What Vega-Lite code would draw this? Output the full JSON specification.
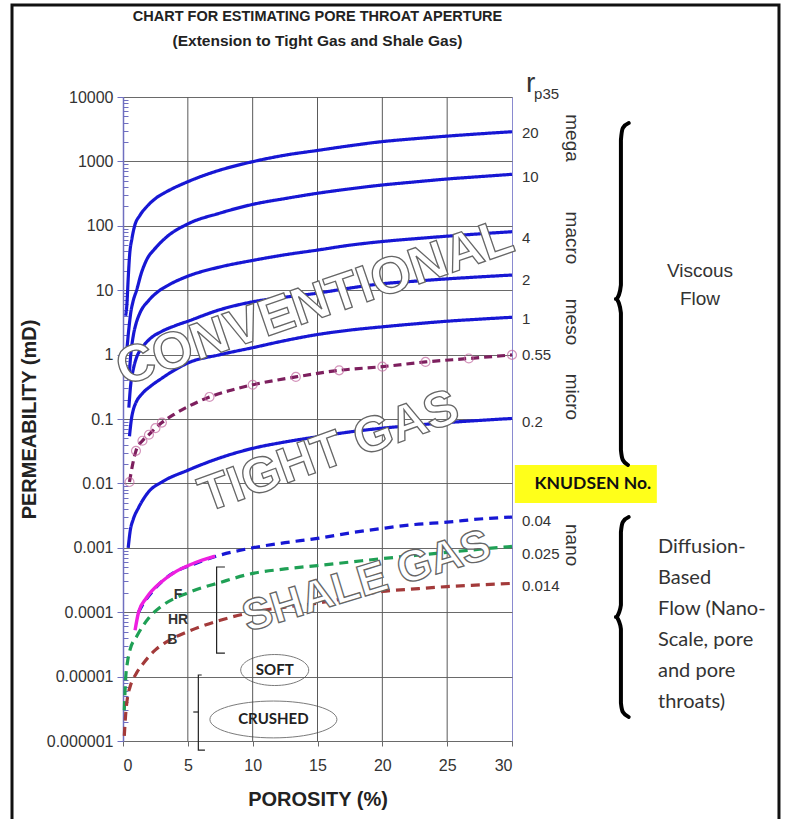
{
  "$schema": "https://vega.github.io/schema/vega-lite/v6.json",
  "width": 389,
  "height": 644,
  "autosize": {"type": "none"},
  "padding": {"left": 123, "top": 97, "right": 277, "bottom": 78},
  "background": "white",
  "title": {
    "text": "CHART FOR ESTIMATING PORE THROAT APERTURE",
    "subtitle": "(Extension to Tight Gas and Shale Gas)",
    "anchor": "middle",
    "frame": "group",
    "font": "Liberation Sans",
    "fontSize": 14.5,
    "fontWeight": "bold",
    "color": "#222222",
    "subtitleFont": "Liberation Sans",
    "subtitleFontSize": 15.5,
    "subtitleFontWeight": "bold",
    "subtitleColor": "#222222",
    "subtitlePadding": 10,
    "offset": -47
  },
  "config": {
    "view": {"stroke": "#8a8ad0", "strokeWidth": 1},
    "font": "Liberation Sans",
    "axis": {"labelFont": "Liberation Sans", "titleFont": "Liberation Sans"}
  },
  "datasets": {
    "frame": [{"phi": -8.56, "phi2": 50.59, "k": 268000, "k2": 0.000000055}],
    "xgrid": [{"phi": 5, "k": 0.000001, "k2": 10000}, {"phi": 10, "k": 0.000001, "k2": 10000}, {"phi": 15, "k": 0.000001, "k2": 10000}, {"phi": 20, "k": 0.000001, "k2": 10000}, {"phi": 25, "k": 0.000001, "k2": 10000}],
    "knudsenBox": [{"phi": 30.22, "phi2": 41.17, "k": 0.0193, "k2": 0.00497}],
    "knudsenText": [{"t": "KNUDSEN No.", "phi": 36.24, "k": 0.0098}],
    "curves": [
      {"r": "20", "phi": 0.2, "k": 4}, {"r": "20", "phi": 0.3, "k": 6}, {"r": "20", "phi": 0.4, "k": 15}, {"r": "20", "phi": 0.5, "k": 33}, {"r": "20", "phi": 0.7, "k": 65}, {"r": "20", "phi": 0.9, "k": 100}, {"r": "20", "phi": 1.3, "k": 145}, {"r": "20", "phi": 1.83, "k": 198}, {"r": "20", "phi": 2.5, "k": 265}, {"r": "20", "phi": 3.37, "k": 339}, {"r": "20", "phi": 5, "k": 484}, {"r": "20", "phi": 7.5, "k": 735}, {"r": "20", "phi": 10, "k": 990}, {"r": "20", "phi": 12.5, "k": 1250}, {"r": "20", "phi": 15, "k": 1480}, {"r": "20", "phi": 17.5, "k": 1750}, {"r": "20", "phi": 20, "k": 2030}, {"r": "20", "phi": 22.5, "k": 2250}, {"r": "20", "phi": 25, "k": 2470}, {"r": "20", "phi": 27.5, "k": 2680}, {"r": "20", "phi": 30, "k": 2890},
      {"r": "10", "phi": 0.3, "k": 1.2}, {"r": "10", "phi": 0.45, "k": 2.5}, {"r": "10", "phi": 0.6, "k": 4.5}, {"r": "10", "phi": 0.8, "k": 7}, {"r": "10", "phi": 1.05, "k": 10}, {"r": "10", "phi": 1.4, "k": 18}, {"r": "10", "phi": 1.8, "k": 29}, {"r": "10", "phi": 2.5, "k": 45}, {"r": "10", "phi": 3.4, "k": 68}, {"r": "10", "phi": 5, "k": 107}, {"r": "10", "phi": 7.5, "k": 158}, {"r": "10", "phi": 10, "k": 215}, {"r": "10", "phi": 12.5, "k": 265}, {"r": "10", "phi": 15, "k": 320}, {"r": "10", "phi": 17.5, "k": 375}, {"r": "10", "phi": 20, "k": 430}, {"r": "10", "phi": 22.5, "k": 480}, {"r": "10", "phi": 25, "k": 533}, {"r": "10", "phi": 27.5, "k": 580}, {"r": "10", "phi": 30, "k": 630},
      {"r": "4", "phi": 0.45, "k": 0.4}, {"r": "4", "phi": 0.6, "k": 1}, {"r": "4", "phi": 0.8, "k": 2}, {"r": "4", "phi": 1, "k": 3}, {"r": "4", "phi": 1.3, "k": 4.4}, {"r": "4", "phi": 2, "k": 7}, {"r": "4", "phi": 2.7, "k": 9.5}, {"r": "4", "phi": 3.5, "k": 12}, {"r": "4", "phi": 5, "k": 16.5}, {"r": "4", "phi": 7.5, "k": 23}, {"r": "4", "phi": 10, "k": 29}, {"r": "4", "phi": 12.5, "k": 35.5}, {"r": "4", "phi": 15, "k": 42}, {"r": "4", "phi": 17.5, "k": 50}, {"r": "4", "phi": 20, "k": 57}, {"r": "4", "phi": 22.5, "k": 63}, {"r": "4", "phi": 25, "k": 69}, {"r": "4", "phi": 27.5, "k": 75}, {"r": "4", "phi": 30, "k": 81},
      {"r": "2", "phi": 0.45, "k": 0.15}, {"r": "2", "phi": 0.6, "k": 0.35}, {"r": "2", "phi": 0.8, "k": 0.6}, {"r": "2", "phi": 1, "k": 0.85}, {"r": "2", "phi": 1.5, "k": 1.3}, {"r": "2", "phi": 2, "k": 1.7}, {"r": "2", "phi": 3, "k": 2.3}, {"r": "2", "phi": 4, "k": 2.8}, {"r": "2", "phi": 5, "k": 3.3}, {"r": "2", "phi": 7.5, "k": 5}, {"r": "2", "phi": 10, "k": 6.6}, {"r": "2", "phi": 12.5, "k": 7.8}, {"r": "2", "phi": 15, "k": 9}, {"r": "2", "phi": 17.5, "k": 10.8}, {"r": "2", "phi": 20, "k": 12.6}, {"r": "2", "phi": 22.5, "k": 13.8}, {"r": "2", "phi": 25, "k": 15}, {"r": "2", "phi": 27.5, "k": 16.1}, {"r": "2", "phi": 30, "k": 17.2},
      {"r": "1", "phi": 0.5, "k": 0.054}, {"r": "1", "phi": 0.65, "k": 0.1}, {"r": "1", "phi": 0.8, "k": 0.14}, {"r": "1", "phi": 1, "k": 0.18}, {"r": "1", "phi": 1.5, "k": 0.25}, {"r": "1", "phi": 2.1, "k": 0.32}, {"r": "1", "phi": 3, "k": 0.43}, {"r": "1", "phi": 4, "k": 0.58}, {"r": "1", "phi": 5, "k": 0.74}, {"r": "1", "phi": 7.5, "k": 1.0}, {"r": "1", "phi": 10, "k": 1.28}, {"r": "1", "phi": 12.5, "k": 1.65}, {"r": "1", "phi": 15, "k": 2.05}, {"r": "1", "phi": 17.5, "k": 2.4}, {"r": "1", "phi": 20, "k": 2.7}, {"r": "1", "phi": 22.5, "k": 3.0}, {"r": "1", "phi": 25, "k": 3.3}, {"r": "1", "phi": 27.5, "k": 3.55}, {"r": "1", "phi": 30, "k": 3.8},
      {"r": "0.55", "phi": 0.5, "k": 0.0105}, {"r": "0.55", "phi": 0.75, "k": 0.02}, {"r": "0.55", "phi": 1, "k": 0.032}, {"r": "0.55", "phi": 1.5, "k": 0.046}, {"r": "0.55", "phi": 2, "k": 0.057}, {"r": "0.55", "phi": 2.5, "k": 0.072}, {"r": "0.55", "phi": 3, "k": 0.088}, {"r": "0.55", "phi": 4, "k": 0.12}, {"r": "0.55", "phi": 5, "k": 0.155}, {"r": "0.55", "phi": 6.67, "k": 0.22}, {"r": "0.55", "phi": 8.33, "k": 0.28}, {"r": "0.55", "phi": 10, "k": 0.34}, {"r": "0.55", "phi": 13.33, "k": 0.45}, {"r": "0.55", "phi": 16.67, "k": 0.57}, {"r": "0.55", "phi": 20, "k": 0.65}, {"r": "0.55", "phi": 23.33, "k": 0.77}, {"r": "0.55", "phi": 26.67, "k": 0.87}, {"r": "0.55", "phi": 30, "k": 0.99},
      {"r": "0.2", "phi": 0.4, "k": 0.001}, {"r": "0.2", "phi": 0.55, "k": 0.0018}, {"r": "0.2", "phi": 0.8, "k": 0.0028}, {"r": "0.2", "phi": 1.2, "k": 0.0042}, {"r": "0.2", "phi": 2, "k": 0.0075}, {"r": "0.2", "phi": 3, "k": 0.0105}, {"r": "0.2", "phi": 5, "k": 0.016}, {"r": "0.2", "phi": 7.5, "k": 0.025}, {"r": "0.2", "phi": 10, "k": 0.035}, {"r": "0.2", "phi": 12.5, "k": 0.044}, {"r": "0.2", "phi": 15, "k": 0.053}, {"r": "0.2", "phi": 17.5, "k": 0.063}, {"r": "0.2", "phi": 20, "k": 0.072}, {"r": "0.2", "phi": 22.5, "k": 0.08}, {"r": "0.2", "phi": 25, "k": 0.088}, {"r": "0.2", "phi": 27.5, "k": 0.095}, {"r": "0.2", "phi": 30, "k": 0.102},
      {"r": "0.04", "phi": 1.2, "k": 0.0001}, {"r": "0.04", "phi": 1.6, "k": 0.00014}, {"r": "0.04", "phi": 2, "k": 0.00018}, {"r": "0.04", "phi": 3, "k": 0.0003}, {"r": "0.04", "phi": 4, "k": 0.00042}, {"r": "0.04", "phi": 5.5, "k": 0.00056}, {"r": "0.04", "phi": 7, "k": 0.00072}, {"r": "0.04", "phi": 10, "k": 0.001}, {"r": "0.04", "phi": 12.5, "k": 0.0012}, {"r": "0.04", "phi": 15, "k": 0.0014}, {"r": "0.04", "phi": 17.5, "k": 0.0017}, {"r": "0.04", "phi": 20, "k": 0.002}, {"r": "0.04", "phi": 22.5, "k": 0.0023}, {"r": "0.04", "phi": 25, "k": 0.0025}, {"r": "0.04", "phi": 27.5, "k": 0.0028}, {"r": "0.04", "phi": 30, "k": 0.003},
      {"r": "0.025", "phi": 0.1, "k": 0.000003}, {"r": "0.025", "phi": 0.2, "k": 0.000009}, {"r": "0.025", "phi": 0.35, "k": 0.000017}, {"r": "0.025", "phi": 0.54, "k": 0.000026}, {"r": "0.025", "phi": 1.05, "k": 0.000042}, {"r": "0.025", "phi": 2, "k": 0.000082}, {"r": "0.025", "phi": 3, "k": 0.000125}, {"r": "0.025", "phi": 5, "k": 0.0002}, {"r": "0.025", "phi": 7.5, "k": 0.00029}, {"r": "0.025", "phi": 10, "k": 0.0004}, {"r": "0.025", "phi": 12.5, "k": 0.00047}, {"r": "0.025", "phi": 15, "k": 0.00053}, {"r": "0.025", "phi": 17.5, "k": 0.0006}, {"r": "0.025", "phi": 20, "k": 0.00068}, {"r": "0.025", "phi": 22.5, "k": 0.00076}, {"r": "0.025", "phi": 25, "k": 0.00085}, {"r": "0.025", "phi": 27.5, "k": 0.00095}, {"r": "0.025", "phi": 30, "k": 0.00105},
      {"r": "0.014", "phi": 0.1, "k": 0.0000012}, {"r": "0.014", "phi": 0.2, "k": 0.0000025}, {"r": "0.014", "phi": 0.35, "k": 0.0000048}, {"r": "0.014", "phi": 0.54, "k": 0.0000069}, {"r": "0.014", "phi": 1, "k": 0.000011}, {"r": "0.014", "phi": 1.56, "k": 0.000016}, {"r": "0.014", "phi": 2.5, "k": 0.000026}, {"r": "0.014", "phi": 3.4, "k": 0.000035}, {"r": "0.014", "phi": 5, "k": 0.00005}, {"r": "0.014", "phi": 7.5, "k": 0.000075}, {"r": "0.014", "phi": 10, "k": 0.0001}, {"r": "0.014", "phi": 12.5, "k": 0.00012}, {"r": "0.014", "phi": 15, "k": 0.000138}, {"r": "0.014", "phi": 17.5, "k": 0.00017}, {"r": "0.014", "phi": 20, "k": 0.00021}, {"r": "0.014", "phi": 22.5, "k": 0.00023}, {"r": "0.014", "phi": 25, "k": 0.00025}, {"r": "0.014", "phi": 27.5, "k": 0.000265}, {"r": "0.014", "phi": 30, "k": 0.00028}
    ],
    "magenta": [
      {"phi": 0.93, "k": 0.0000525}, {"phi": 1.2, "k": 0.0001}, {"phi": 1.8, "k": 0.000166}, {"phi": 3, "k": 0.0003}, {"phi": 4.1, "k": 0.00043}, {"phi": 5.5, "k": 0.00058}, {"phi": 7.1, "k": 0.00074}
    ],
    "markers": [
      {"phi": 0.5, "k": 0.0105}, {"phi": 1, "k": 0.032}, {"phi": 1.5, "k": 0.046}, {"phi": 2, "k": 0.057}, {"phi": 2.5, "k": 0.072}, {"phi": 3, "k": 0.088}, {"phi": 6.67, "k": 0.22}, {"phi": 10, "k": 0.34}, {"phi": 13.33, "k": 0.45}, {"phi": 16.67, "k": 0.57}, {"phi": 20, "k": 0.65}, {"phi": 23.33, "k": 0.77}, {"phi": 26.67, "k": 0.87}, {"phi": 30, "k": 0.99}
    ],
    "brackets": [
      {"g": "a", "o": 0, "phi": 7.86, "k": 0.000503}, {"g": "a", "o": 1, "phi": 7.22, "k": 0.000503}, {"g": "a", "o": 2, "phi": 7.22, "k": 0.0000232}, {"g": "a", "o": 3, "phi": 7.86, "k": 0.0000232},
      {"g": "b", "o": 0, "phi": 6.07, "k": 0.00001059}, {"g": "b", "o": 1, "phi": 5.81, "k": 0.00001059}, {"g": "b", "o": 2, "phi": 5.81, "k": 0.000000724}, {"g": "b", "o": 3, "phi": 6.32, "k": 0.000000724},
      {"g": "c", "o": 0, "phi": 5.81, "k": 0.00000282}, {"g": "c", "o": 1, "phi": 5.42, "k": 0.00000282}
    ],
    "braces": [
      {"g": "v", "o": 0, "phi": 39.0, "k": 3945}, {"g": "v", "o": 1, "phi": 38.55, "k": 3304}, {"g": "v", "o": 2, "phi": 38.4, "k": 2148}, {"g": "v", "o": 3, "phi": 38.4, "k": 12.05}, {"g": "v", "o": 4, "phi": 38.24, "k": 8.41}, {"g": "v", "o": 5, "phi": 38.01, "k": 7.29}, {"g": "v", "o": 6, "phi": 38.24, "k": 6.32}, {"g": "v", "o": 7, "phi": 38.4, "k": 4.43}, {"g": "v", "o": 8, "phi": 38.4, "k": 0.033}, {"g": "v", "o": 9, "phi": 38.55, "k": 0.02307}, {"g": "v", "o": 10, "phi": 38.94, "k": 0.01932},
      {"g": "d", "o": 0, "phi": 39.0, "k": 0.003006}, {"g": "d", "o": 1, "phi": 38.55, "k": 0.002518}, {"g": "d", "o": 2, "phi": 38.4, "k": 0.001758}, {"g": "d", "o": 3, "phi": 38.4, "k": 0.0001294}, {"g": "d", "o": 4, "phi": 38.24, "k": 0.00009727}, {"g": "d", "o": 5, "phi": 38.01, "k": 0.00008414}, {"g": "d", "o": 6, "phi": 38.24, "k": 0.00007295}, {"g": "d", "o": 7, "phi": 38.4, "k": 0.00005483}, {"g": "d", "o": 8, "phi": 38.4, "k": 0.00000389}, {"g": "d", "o": 9, "phi": 38.55, "k": 0.000002818}, {"g": "d", "o": 10, "phi": 39.0, "k": 0.00000236}
    ],
    "rlabels": [
      {"t": "20", "phi": 30, "k": 2760}, {"t": "10", "phi": 30, "k": 573}, {"t": "4", "phi": 30, "k": 64.7}, {"t": "2", "phi": 30, "k": 14.4}, {"t": "1", "phi": 30, "k": 3.57}, {"t": "0.55", "phi": 30, "k": 0.986}, {"t": "0.2", "phi": 30, "k": 0.0898}, {"t": "0.04", "phi": 30, "k": 0.00261}, {"t": "0.025", "phi": 30, "k": 0.000802}, {"t": "0.014", "phi": 30, "k": 0.000255}
    ],
    "rhead": [{"t": "r", "phi": 31.08, "k": 15900}],
    "rsub": [{"t": "p35", "phi": 31.7, "k": 11300}],
    "classes": [
      {"t": "mega", "phi": 34.6, "k": 2307}, {"t": "macro", "phi": 34.6, "k": 64.7}, {"t": "meso", "phi": 34.6, "k": 3.21}, {"t": "micro", "phi": 34.6, "k": 0.22}, {"t": "nano", "phi": 34.6, "k": 0.0011}
    ],
    "viscous": [{"t": "Viscous\nFlow", "phi": 44.5, "k": 19.86}],
    "diffusion": [{"t": "Diffusion-\nBased\nFlow (Nano-\nScale, pore\nand pore\nthroats)", "phi": 41.26, "k": 0.001028}],
    "shaleTypes": [{"t": "F", "phi": 4.25, "k": 0.000185}, {"t": "HR", "phi": 4.25, "k": 0.0000757}, {"t": "B", "phi": 3.8, "k": 0.000037}],
    "soft": [{"t": "SOFT", "phi": 11.7, "k": 0.00001265}],
    "crushed": [{"t": "CRUSHED", "phi": 11.6, "k": 0.00000216}],
    "conventional": [{"t": "CONVENTIONAL", "phi": 14.8, "k": 6.32}],
    "tight": [{"t": "TIGHT GAS", "phi": 15.9, "k": 0.0308}],
    "shale": [{"t": "SHALE GAS", "phi": 18.8, "k": 0.000294}]
  },
  "encoding": {
    "x": {
      "field": "phi", "type": "quantitative",
      "scale": {"domain": [0, 30], "nice": false, "zero": false},
      "axis": {
        "values": [0, 5, 10, 15, 20, 25, 30], "grid": false,
        "domainColor": "#6a6a6a", "tickColor": "#6a6a6a", "tickSize": 5,
        "labelFontSize": 16, "labelColor": "#333333", "labelPadding": 11,
        "title": "POROSITY (%)", "titleFontSize": 20, "titleFontWeight": "bold", "titleColor": "#222222", "titlePadding": 16
      }
    },
    "y": {"field": "k", "type": "quantitative", "scale": {"type": "log", "domain": [0.000001, 10000], "nice": false}, "axis": null}
  },
  "resolve": {"axis": {"y": "independent"}},
  "layer": [
    {
      "data": {"name": "frame"},
      "mark": {"type": "rect", "fill": null, "filled": false, "stroke": "#111111", "strokeWidth": 3},
      "encoding": {"x2": {"field": "phi2"}, "y2": {"field": "k2"}}
    },
    {
      "data": {"name": "xgrid"},
      "mark": {"type": "rule", "color": "#5a5a5a", "strokeWidth": 1},
      "encoding": {"y2": {"field": "k2"}}
    },
    {
      "data": {"name": "knudsenBox"},
      "mark": {"type": "rect", "fill": "#ffff1a", "stroke": null},
      "encoding": {"x2": {"field": "phi2"}, "y2": {"field": "k2"}}
    },
    {
      "data": {"name": "curves"},
      "mark": {"type": "line", "strokeWidth": 3.2, "interpolate": "monotone"},
      "encoding": {
        "y": {
          "field": "k", "type": "quantitative",
          "scale": {"type": "log", "domain": [0.000001, 10000], "nice": false},
          "axis": {
            "orient": "left",
            "values": [0.000001, 0.00001, 0.0001, 0.001, 0.01, 0.1, 1, 10, 100, 1000, 10000],
            "format": "~f", "grid": true, "gridColor": "#6a6a6a", "gridWidth": 1,
            "domainColor": "#6f6fc0", "domainWidth": 1.5, "tickColor": "#6f6fc0", "tickSize": 6,
            "labelFontSize": 16, "labelColor": "#333333", "labelPadding": 4,
            "title": "PERMEABILITY (mD)", "titleFontSize": 20, "titleFontWeight": "bold", "titleColor": "#222222", "titlePadding": 7
          }
        },
        "color": {
          "field": "r", "type": "nominal", "legend": null,
          "scale": {
            "domain": ["20", "10", "4", "2", "1", "0.55", "0.2", "0.04", "0.025", "0.014"],
            "range": ["#1717d4", "#1717d4", "#1717d4", "#1717d4", "#1717d4", "#7d1f5e", "#1717d4", "#1717d4", "#1fa055", "#a33a3a"]
          }
        },
        "strokeDash": {
          "field": "r", "type": "nominal", "legend": null,
          "scale": {
            "domain": ["20", "10", "4", "2", "1", "0.55", "0.2", "0.04", "0.025", "0.014"],
            "range": [[1, 0], [1, 0], [1, 0], [1, 0], [1, 0], [8, 5], [1, 0], [9, 6], [9, 6], [9, 6]]
          }
        }
      }
    },
    {
      "data": {"name": "magenta"},
      "mark": {"type": "line", "strokeWidth": 3.4, "color": "#ee1fe0", "interpolate": "monotone"}
    },
    {
      "data": {"name": "markers"},
      "mark": {"type": "point", "shape": "circle", "size": 80, "filled": false, "stroke": "#c2679f", "strokeWidth": 1.2},
      "encoding": {
        "y": {
          "field": "k", "type": "quantitative",
          "scale": {"type": "log", "domain": [0.000001, 10000], "nice": false},
          "axis": {
            "orient": "left",
            "values": [0.000002, 0.000003, 0.000004, 0.000005, 0.000006, 0.000007, 0.000008, 0.000009, 0.00002, 0.00003, 0.00004, 0.00005, 0.00006, 0.00007, 0.00008, 0.00009, 0.0002, 0.0003, 0.0004, 0.0005, 0.0006, 0.0007, 0.0008, 0.0009, 0.002, 0.003, 0.004, 0.005, 0.006, 0.007, 0.008, 0.009, 0.02, 0.03, 0.04, 0.05, 0.06, 0.07, 0.08, 0.09, 0.2, 0.3, 0.4, 0.5, 0.6, 0.7, 0.8, 0.9, 2, 3, 4, 5, 6, 7, 8, 9, 20, 30, 40, 50, 60, 70, 80, 90, 200, 300, 400, 500, 600, 700, 800, 900, 2000, 3000, 4000, 5000, 6000, 7000, 8000, 9000],
            "labels": false, "domain": false, "grid": false, "ticks": true, "tickSize": -5, "tickColor": "#6f6fc0", "title": null
          }
        }
      }
    },
    {
      "data": {"name": "brackets"},
      "mark": {"type": "line", "color": "#222222", "strokeWidth": 1.2},
      "encoding": {"detail": {"field": "g"}, "order": {"field": "o", "type": "quantitative"}}
    },
    {
      "data": {"name": "braces"},
      "mark": {"type": "line", "color": "#000000", "strokeWidth": 4, "strokeJoin": "round", "strokeCap": "round", "interpolate": "monotone"},
      "encoding": {"detail": {"field": "g"}, "order": {"field": "o", "type": "quantitative"}}
    },
    {
      "data": {"name": "soft"},
      "mark": {"type": "point", "shape": "M-1,0A1,0.456 0 1,1 1,0A1,0.456 0 1,1 -1,0Z", "size": 4624, "filled": false, "stroke": "#444444", "strokeWidth": 1}
    },
    {
      "data": {"name": "crushed"},
      "mark": {"type": "point", "shape": "M-1,0A1,0.29 0 1,1 1,0A1,0.29 0 1,1 -1,0Z", "size": 16129, "filled": false, "stroke": "#444444", "strokeWidth": 1}
    },
    {
      "data": {"name": "soft"},
      "mark": {"type": "text", "font": "Lato", "fontWeight": "bold", "fontSize": 15, "color": "#222222", "align": "center", "baseline": "middle"},
      "encoding": {"text": {"field": "t"}}
    },
    {
      "data": {"name": "crushed"},
      "mark": {"type": "text", "font": "Lato", "fontWeight": "bold", "fontSize": 15, "color": "#222222", "align": "center", "baseline": "middle"},
      "encoding": {"text": {"field": "t"}}
    },
    {
      "data": {"name": "shaleTypes"},
      "mark": {"type": "text", "fontWeight": "bold", "fontSize": 14, "color": "#333333", "align": "center", "baseline": "middle"},
      "encoding": {"text": {"field": "t"}}
    },
    {
      "data": {"name": "knudsenText"},
      "mark": {"type": "text", "font": "Lato", "fontWeight": "bold", "fontSize": 17.5, "color": "#111111", "align": "center", "baseline": "middle"},
      "encoding": {"text": {"field": "t"}}
    },
    {
      "data": {"name": "rlabels"},
      "mark": {"type": "text", "fontSize": 15, "color": "#333333", "align": "left", "baseline": "middle", "dx": 10},
      "encoding": {"text": {"field": "t"}}
    },
    {
      "data": {"name": "rhead"},
      "mark": {"type": "text", "fontSize": 28, "color": "#333333", "align": "left", "baseline": "middle"},
      "encoding": {"text": {"field": "t"}}
    },
    {
      "data": {"name": "rsub"},
      "mark": {"type": "text", "fontSize": 15, "color": "#333333", "align": "left", "baseline": "middle"},
      "encoding": {"text": {"field": "t"}}
    },
    {
      "data": {"name": "classes"},
      "mark": {"type": "text", "fontSize": 19, "color": "#333333", "align": "center", "baseline": "middle", "angle": 90},
      "encoding": {"text": {"field": "t"}}
    },
    {
      "data": {"name": "viscous"},
      "mark": {"type": "text", "fontSize": 19, "color": "#333333", "align": "center", "baseline": "middle", "lineBreak": "\n", "lineHeight": 28},
      "encoding": {"text": {"field": "t"}}
    },
    {
      "data": {"name": "diffusion"},
      "mark": {"type": "text", "font": "Lato", "fontSize": 20, "color": "#333333", "align": "left", "baseline": "middle", "lineBreak": "\n", "lineHeight": 31},
      "encoding": {"text": {"field": "t"}}
    },
    {
      "data": {"name": "conventional"},
      "mark": {"type": "text", "fontSize": 52, "fontWeight": "bold", "fill": "#ffffff", "stroke": "#666666", "strokeWidth": 1.3, "align": "center", "baseline": "middle", "angle": -19},
      "encoding": {"text": {"field": "t"}}
    },
    {
      "data": {"name": "tight"},
      "mark": {"type": "text", "fontSize": 50, "fontWeight": "bold", "fill": "#ffffff", "stroke": "#666666", "strokeWidth": 1.3, "align": "center", "baseline": "middle", "angle": -20},
      "encoding": {"text": {"field": "t"}}
    },
    {
      "data": {"name": "shale"},
      "mark": {"type": "text", "fontSize": 44, "fontWeight": "bold", "fill": "#ffffff", "stroke": "#666666", "strokeWidth": 1.3, "align": "center", "baseline": "middle", "angle": -17},
      "encoding": {"text": {"field": "t"}}
    }
  ]
}
